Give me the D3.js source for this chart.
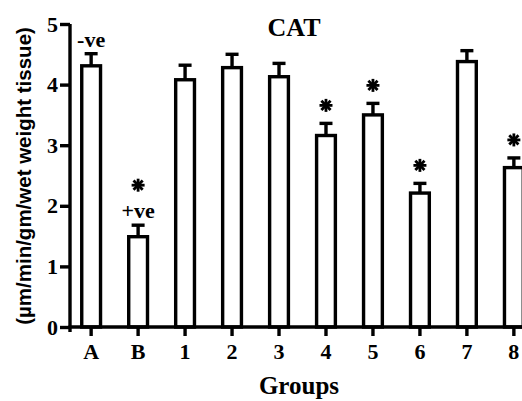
<!DOCTYPE html>
<html>
<head>
<meta charset="utf-8">
<script src="https://cdn.jsdelivr.net/npm/d3@7"></script>
<style>
  body { margin: 0; background: #fff; }
  svg { display: block; }
</style>
</head>
<body>
<div id="chart"></div>
<script>
const groups = ["A", "B", "1", "2", "3", "4", "5", "6", "7", "8"];
const means = [4.31, 1.49, 4.08, 4.28, 4.13, 3.16, 3.50, 2.21, 4.38, 2.63];
const sems = [0.20, 0.19, 0.24, 0.22, 0.22, 0.20, 0.19, 0.16, 0.18, 0.16];
const starred = ["B", "4", "5", "6", "8"];
const controls = [["A", "-ve"], ["B", "+ve"]];
const yTicks = [0, 1, 2, 3, 4, 5];

const width = 522, height = 401;
const serif = "'Liberation Serif', 'Times New Roman', serif";
const lw = 3.4;

const svg = d3.select("#chart").append("svg")
  .attr("width", width)
  .attr("height", height);

const x = d3.scaleBand()
  .domain(groups)
  .range([70, 535])
  .paddingInner(0.6)
  .paddingOuter(0.25);

const y = d3.scaleLinear().domain([0, 5]).range([327, 24]);

const data = groups.map((g, i) => ({ g, m: means[i], s: sems[i] }));

// bars
svg.append("g")
  .selectAll("rect")
  .data(data)
  .join("rect")
  .attr("x", d => x(d.g))
  .attr("y", d => y(d.m))
  .attr("width", x.bandwidth())
  .attr("height", d => y(0) - y(d.m))
  .attr("fill", "#fff")
  .attr("stroke", "#000")
  .attr("stroke-width", lw);

// error bars (upper only)
const cx = d => x(d.g) + x.bandwidth() / 2;
const err = svg.append("g").attr("stroke", "#000").attr("stroke-width", lw);
err.selectAll(".stem")
  .data(data)
  .join("line")
  .attr("x1", cx).attr("x2", cx)
  .attr("y1", d => y(d.m))
  .attr("y2", d => y(d.m + d.s));
err.selectAll(".cap")
  .data(data)
  .join("line")
  .attr("x1", d => cx(d) - 6.5).attr("x2", d => cx(d) + 6.5)
  .attr("y1", d => y(d.m + d.s))
  .attr("y2", d => y(d.m + d.s));

// axes
const yAxis = svg.append("g")
  .attr("transform", "translate(70,0)")
  .call(d3.axisLeft(y).tickValues(yTicks).tickFormat(d3.format("d"))
    .tickSize(10).tickSizeOuter(0).tickPadding(2));

const xAxis = svg.append("g")
  .attr("transform", `translate(0,${y(0)})`)
  .call(d3.axisBottom(x).tickSize(9).tickSizeOuter(0).tickPadding(7));

[yAxis, xAxis].forEach(a => {
  a.selectAll("path, line").attr("stroke", "#000").attr("stroke-width", lw);
  a.selectAll("text")
    .attr("fill", "#000")
    .style("font-family", serif)
    .style("font-weight", "bold")
    .style("font-size", "22px");
});
xAxis.select(".domain").attr("d", `M68.5,0H535`);
yAxis.select(".domain").attr("d", `M0,${y(5)}V${y(0) + 5}`);

// significance stars
const star = svg.append("g").attr("stroke", "#000").attr("stroke-width", 2.8);
data.filter(d => starred.includes(d.g)).forEach(d => {
  const off = d.g === "B" ? 40 : 18;
  const sx = cx(d), sy = y(d.m + d.s) - off;
  for (let k = 0; k < 4; k++) {
    const a = k * Math.PI / 4;
    star.append("line")
      .attr("x1", sx - 6.5 * Math.cos(a)).attr("y1", sy - 6.5 * Math.sin(a))
      .attr("x2", sx + 6.5 * Math.cos(a)).attr("y2", sy + 6.5 * Math.sin(a));
  }
});

// control labels
controls.forEach(([g, label]) => {
  const d = data.find(e => e.g === g);
  svg.append("text")
    .attr("x", cx(d))
    .attr("y", y(d.m + d.s) - 7)
    .attr("text-anchor", "middle")
    .style("font-family", serif)
    .style("font-weight", "bold")
    .style("font-size", "22px")
    .text(label);
});

// titles
svg.append("text")
  .attr("x", 294).attr("y", 36)
  .attr("text-anchor", "middle")
  .style("font-family", serif).style("font-weight", "bold").style("font-size", "26px")
  .text("CAT");

svg.append("text")
  .attr("x", 299).attr("y", 394)
  .attr("text-anchor", "middle")
  .style("font-family", serif).style("font-weight", "bold").style("font-size", "25px")
  .text("Groups");

svg.append("text")
  .attr("transform", "translate(23,176) rotate(-90)")
  .attr("text-anchor", "middle")
  .attr("dominant-baseline", "central")
  .style("font-family", "'Liberation Sans', Arial, sans-serif")
  .style("font-weight", "bold").style("font-size", "20.5px")
  .text("(µm/min/gm/wet weight tissue)");
</script>
</body>
</html>
